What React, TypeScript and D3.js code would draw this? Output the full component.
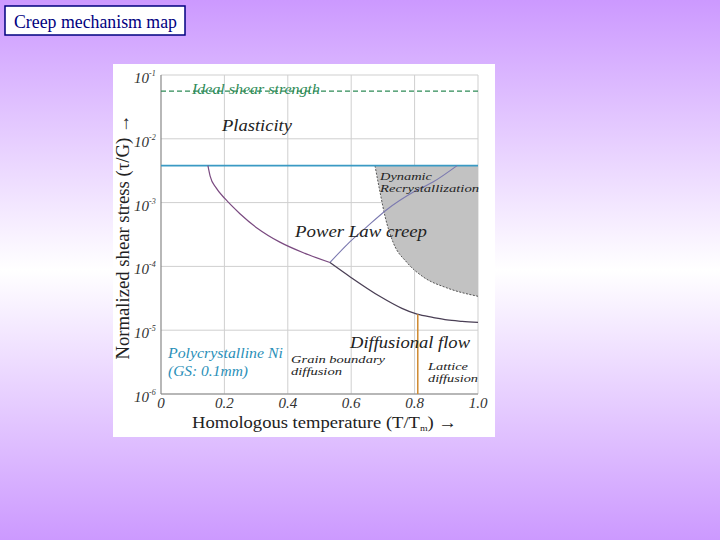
import * as d3 from "d3";

// deformation-mechanism map for polycrystalline Ni
const xTicks = [0, 0.2, 0.4, 0.6, 0.8, 1.0];
const xTickLabels = ["0", "0.2", "0.4", "0.6", "0.8", "1.0"];
const yTicks = [1e-1, 1e-2, 1e-3, 1e-4, 1e-5, 1e-6];
const yTickExps = ["-1", "-2", "-3", "-4", "-5", "-6"];

const idealShear = 5.6e-2;
const plasticityLevel = 3.8e-3;

// power-law / diffusional-flow boundary (low temperature branch)
const glideBoundary: [number, number][] = [
  [0.148, 3.8e-3], [0.155, 2.6e-3], [0.174, 1.7e-3], [0.202, 1.15e-3],
  [0.249, 6.7e-4], [0.306, 3.9e-4], [0.375, 2.4e-4], [0.454, 1.6e-4],
  [0.533, 1.15e-4],
];
// branch rising from the triple point
const upperBranch: [number, number][] = [
  [0.533, 1.15e-4], [0.587, 2.2e-4], [0.65, 4.2e-4], [0.713, 7.8e-4],
  [0.795, 1.45e-3], [0.858, 2.1e-3], [0.934, 3.8e-3],
];
// power-law / diffusional flow boundary
const lowerBranch: [number, number][] = [
  [0.533, 1.15e-4], [0.596, 6.9e-5], [0.69, 3.4e-5], [0.76, 2.2e-5],
  [0.808, 1.78e-5], [0.86, 1.58e-5], [0.902, 1.45e-5], [0.95, 1.38e-5],
  [1.0, 1.33e-5],
];
// dynamic recrystallization edge
const drxBoundary: [number, number][] = [
  [0.675, 3.8e-3], [0.691, 1.45e-3], [0.707, 6.0e-4], [0.732, 2.4e-4],
  [0.776, 1.15e-4], [0.826, 6.9e-5], [0.902, 4.6e-5], [1.0, 3.4e-5],
];
// grain boundary / lattice diffusion split
const latticeSplitT = 0.81;
const latticeSplitTop = 1.78e-5;

const serif = "'Liberation Serif', 'Times New Roman', serif";

export default function App() {
  const W = 720, H = 540;
  const x = d3.scaleLinear().domain([0, 1]).range([161, 478]);
  const y = d3.scaleLog().domain([1e-6, 1e-1]).range([394, 75]);

  const line = d3.line<[number, number]>()
    .x(d => x(d[0]))
    .y(d => y(d[1]))
    .curve(d3.curveMonotoneX);

  const drxPath = line(drxBoundary) + ` L${x(1)},${y(plasticityLevel)} Z`;

  const label = (tx: number, ty: number, s: string, size: number, len: number, fill = "#222") => (
    <text x={tx} y={ty} fontFamily={serif} fontStyle="italic" fontSize={size} fill={fill}
      textLength={len} lengthAdjust="spacingAndGlyphs">{s}</text>
  );

  return (
    <svg width={W} height={H} style={{ position: "absolute", left: 0, top: 0 }}>
      <defs>
        <linearGradient id="bg" x1="0" y1="0" x2="0" y2="1">
          <stop offset="0" stopColor="#cc99ff" />
          <stop offset="0.5" stopColor="#ffffff" />
          <stop offset="1" stopColor="#cc99ff" />
        </linearGradient>
      </defs>
      <rect width={W} height={H} fill="url(#bg)" />

      {/* title box */}
      <rect x={5} y={6} width={180} height={29} fill="#fff" stroke="#000080" strokeWidth={1.5} />
      <text x={14} y={28} fontFamily={serif} fontSize={18} fill="#000080" textLength={163} lengthAdjust="spacingAndGlyphs">Creep mechanism map</text>

      {/* chart image */}
      <rect x={113} y={64} width={382} height={373} fill="#fff" />

      {/* grid */}
      {xTicks.slice(1).map(t => (
        <line key={"gx" + t} x1={x(t)} x2={x(t)} y1={y(1e-1)} y2={y(1e-6)} stroke="#cfcfcf" strokeWidth={1} />
      ))}
      {yTicks.map(t => (
        <line key={"gy" + t} x1={x(0)} x2={x(1)} y1={y(t)} y2={y(t)} stroke="#cfcfcf" strokeWidth={1} />
      ))}

      {/* dynamic recrystallization region */}
      <path d={drxPath} fill="#c2c2c2" stroke="none" />
      <path d={line(drxBoundary) || ""} fill="none" stroke="#555" strokeWidth={1} strokeDasharray="2,1.5" />

      {/* axes */}
      <line x1={x(0)} x2={x(0)} y1={y(1e-1)} y2={y(1e-6)} stroke="#888" strokeWidth={1.2} />
      <line x1={x(0)} x2={x(1)} y1={y(1e-6)} y2={y(1e-6)} stroke="#888" strokeWidth={1.2} />

      {/* ideal shear strength */}
      <line x1={x(0)} x2={x(1)} y1={y(idealShear)} y2={y(idealShear)} stroke="#2e8b57" strokeWidth={1.2} strokeDasharray="5,3" />
      {label(192, 94, "Ideal shear strength", 14, 128, "#2e8b57")}

      {/* plasticity boundary */}
      <line x1={x(0)} x2={x(1)} y1={y(plasticityLevel)} y2={y(plasticityLevel)} stroke="#3a9ac4" strokeWidth={1.6} />

      {/* mechanism boundaries */}
      <path d={line(glideBoundary) || ""} fill="none" stroke="#7a4a80" strokeWidth={1.2} />
      <path d={line(upperBranch) || ""} fill="none" stroke="#7b79b0" strokeWidth={1.1} />
      <path d={line(lowerBranch) || ""} fill="none" stroke="#4a3f55" strokeWidth={1.3} />
      <line x1={x(latticeSplitT)} x2={x(latticeSplitT)} y1={y(latticeSplitTop)} y2={y(1e-6)} stroke="#d08a30" strokeWidth={1.5} />

      {/* region labels */}
      {label(222, 131, "Plasticity", 16, 70)}
      {label(380, 180, "Dynamic", 11, 52)}
      {label(380, 192, "Recrystallization", 11, 99)}
      {label(295, 237, "Power Law creep", 16, 132)}
      {label(350, 348, "Diffusional flow", 16, 120)}
      {label(291, 363, "Grain boundary", 11, 94)}
      {label(291, 375, "diffusion", 11, 51)}
      {label(428, 370, "Lattice", 11, 40)}
      {label(428, 382, "diffusion", 11, 50)}
      {label(168, 358, "Polycrystalline Ni", 14, 115, "#2a8fb8")}
      {label(168, 376, "(GS: 0.1mm)", 14, 80, "#2a8fb8")}

      {/* y tick labels */}
      {yTicks.map((t, i) => (
        <text key={"yl" + t} x={134} y={y(t) + 8} fontFamily={serif} fontStyle="italic" fontSize={15} fill="#333">
          10<tspan dy={-7} fontSize={8}>{yTickExps[i]}</tspan>
        </text>
      ))}

      {/* x tick labels */}
      {xTicks.map((t, i) => (
        <text key={"xl" + t} x={x(t)} y={408} textAnchor="middle" fontFamily={serif} fontStyle="italic" fontSize={15} fill="#333">
          {xTickLabels[i]}
        </text>
      ))}

      {/* axis titles */}
      <text x={192} y={428} fontFamily={serif} fontSize={17} fill="#222" textLength={265} lengthAdjust="spacingAndGlyphs">
        Homologous temperature (T/T<tspan dy={3} fontSize={9}>m</tspan><tspan dy={-3}>) →</tspan>
      </text>
      <text transform="translate(129,237) rotate(-90)" textAnchor="middle" fontFamily={serif} fontSize={18} fill="#222"
        textLength={245} lengthAdjust="spacingAndGlyphs">
        Normalized shear stress (τ/G) →
      </text>
    </svg>
  );
}
